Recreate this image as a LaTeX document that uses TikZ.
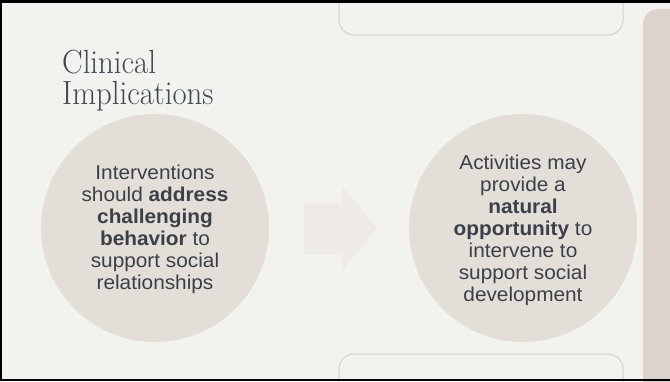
\documentclass[tikz,border=0pt]{standalone}
\usepackage{fontspec}
\setmainfont{Liberation Sans}[FakeStretch=1.04]
\newfontfamily\titlefont{lmroman17-regular.otf}[FakeStretch=0.92]
\definecolor{bg}{RGB}{242,242,238}
\definecolor{circ}{RGB}{228,222,216}
\definecolor{panel}{RGB}{220,211,206}
\definecolor{arrowc}{RGB}{238,235,230}
\definecolor{boxline}{RGB}{214,209,204}
\definecolor{txt}{RGB}{58,64,72}
\definecolor{titlec}{RGB}{64,72,84}
\tikzset{
  bubble/.style={circle, fill=circ, minimum size=228pt, inner sep=0pt},
  bubbletext/.style={align=center, text=txt, inner sep=0pt, font=\fontsize{20}{22}\selectfont},
  emptybox/.style={draw=boxline, line width=1pt, rounded corners=15pt},
}
\begin{document}
\begin{tikzpicture}[x=1pt,y=-1pt]
\useasboundingbox (0,0) rectangle (670,381);
\clip (0,0) rectangle (670,381);
\fill[bg] (0,0) rectangle (670,381);
% faint empty boxes at top and bottom
\draw[emptybox] (339,-30) rectangle (623,35);
\draw[emptybox] (339,354) rectangle (623,420);
% right panel
\fill[panel, rounded corners=15pt] (643,9) rectangle (700,420);
% title
\node[anchor=north west, align=left, inner sep=0pt, text=titlec,
      font=\titlefont\fontsize{33.5}{31}\selectfont] (title) at (62,50) {Clinical\\Implications};
% circles
\node[bubble] (c1) at (155,228) {};
\node[bubble] (c2) at (523,228) {};
\node[bubbletext] (t1) at ([yshift=-1pt]c1.center) {Interventions\\should \textbf{address}\\\textbf{challenging}\\\textbf{behavior} to\\support social\\relationships};
\node[bubbletext] (t2) at ([yshift=-2pt]c2.center) {Activities may\\provide a\\\textbf{natural}\\\textbf{opportunity} to\\intervene to\\support social\\development};
% arrow
\fill[arrowc] (304,203) -- (342,203) -- (342,186) -- (377,228) -- (342,271) -- (342,254) -- (304,254) -- cycle;
% frame
\fill[black] (0,0) rectangle (670,3);
\fill[black] (0,0) rectangle (2,381);
\fill[black] (0,379) rectangle (670,381);
\end{tikzpicture}
\end{document}
